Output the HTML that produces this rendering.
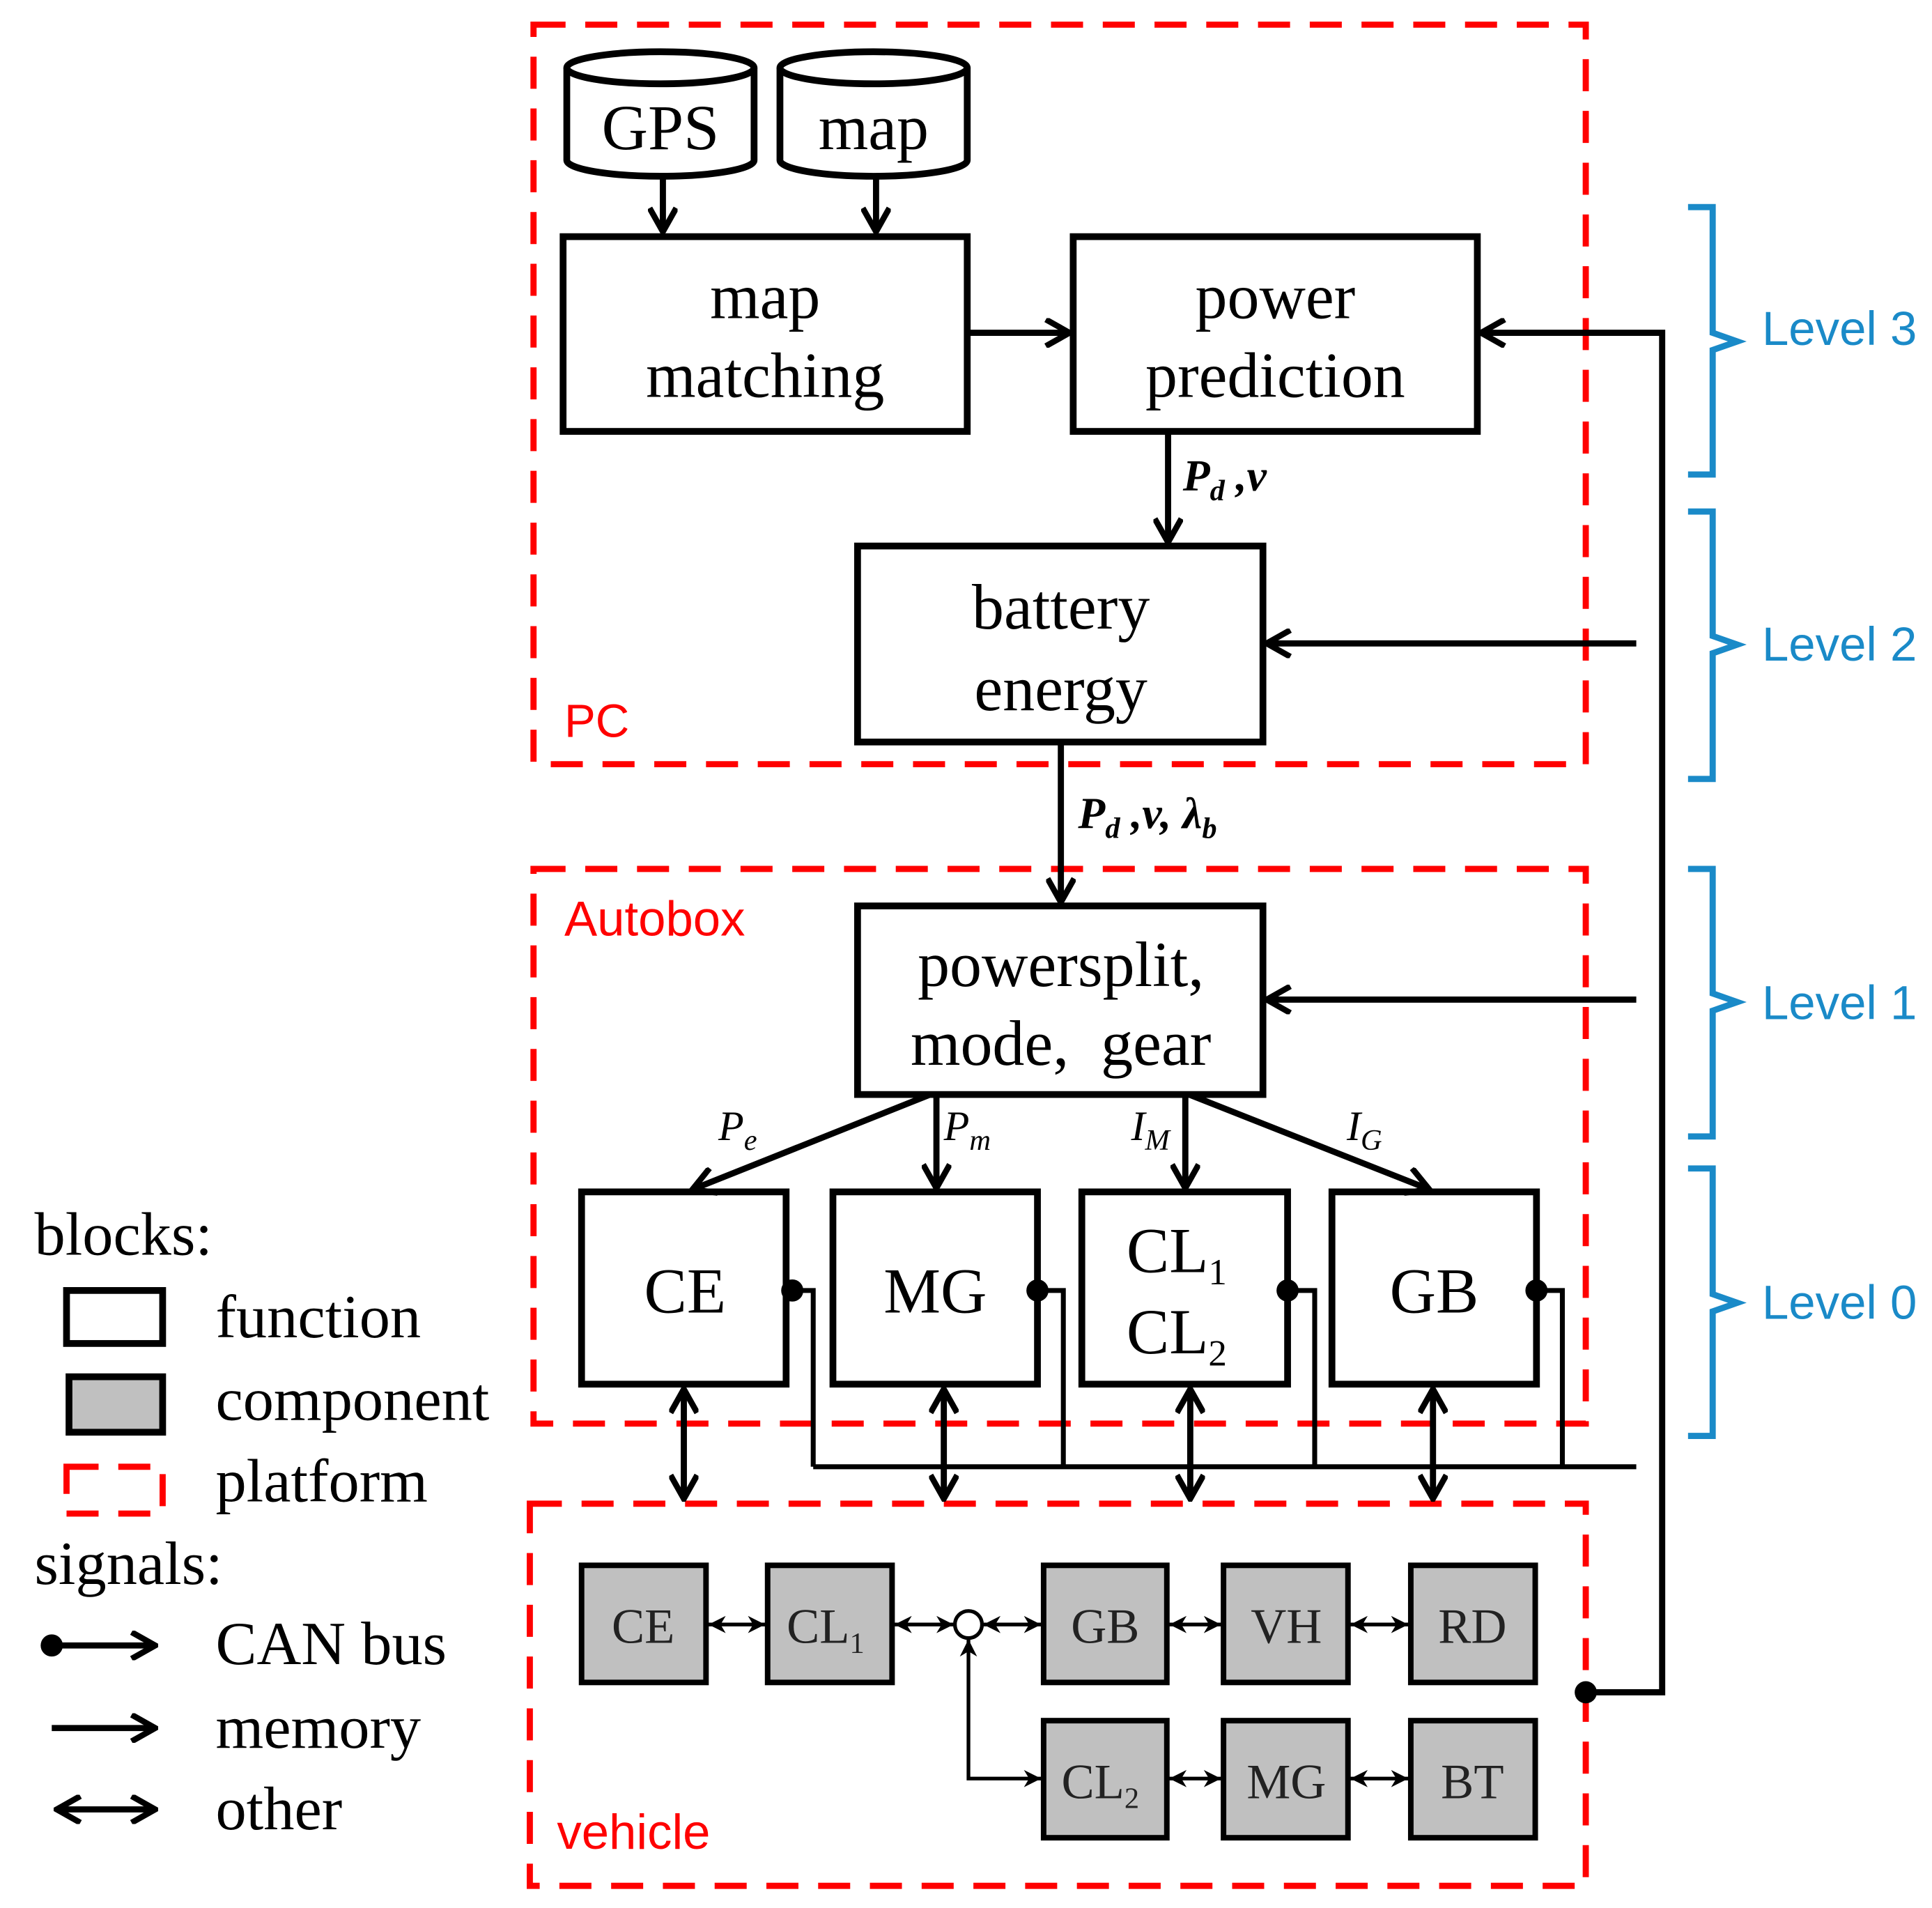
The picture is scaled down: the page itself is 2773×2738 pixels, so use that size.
<!DOCTYPE html>
<html><head><meta charset="utf-8"><style>html,body{margin:0;padding:0;background:#fff}svg{display:block}</style></head>
<body>
<svg width="2773" height="2738" viewBox="0 0 1568 1548" preserveAspectRatio="none" xmlns="http://www.w3.org/2000/svg">
<defs>
<marker id="A" viewBox="0 0 20 20" markerWidth="24" markerHeight="24" refX="18" refY="10" orient="auto-start-reverse" markerUnits="userSpaceOnUse"><path d="M2,1 L18,10 L2,19" fill="none" stroke="#000" stroke-width="4"/></marker>
<marker id="s" viewBox="0 0 10 10" markerWidth="14" markerHeight="14" refX="10" refY="5" orient="auto-start-reverse" markerUnits="userSpaceOnUse"><path d="M0,0 L10,5 L0,10 L3,5Z" fill="#000"/></marker>
</defs>
<g fill="none" stroke="#f00" stroke-width="5" stroke-dasharray="26,16">
<rect x="433" y="20" width="854" height="600"/>
<rect x="433" y="705" width="854" height="450"/>
<rect x="430" y="1220" width="857" height="310"/>
<rect x="54" y="1190" width="78" height="38"/>
</g>
<g font-family="Liberation Sans, sans-serif" font-size="40" fill="#f00">
<text x="458" y="598" font-size="38">PC</text><text x="458" y="759">Autobox</text><text x="452" y="1500">vehicle</text>
</g>
<g stroke="#000" stroke-width="5.5" fill="#fff">
<path d="M460,55 V130 A76,13 0 0 0 612,130 V55"/><ellipse cx="536" cy="55" rx="76" ry="13"/>
<path d="M633,55 V130 A76,13 0 0 0 785,130 V55"/><ellipse cx="709" cy="55" rx="76" ry="13"/>
<rect x="457" y="192" width="328" height="158"/>
<rect x="871" y="192" width="328" height="158"/>
<rect x="696" y="443" width="329" height="159"/>
<rect x="696" y="735" width="329" height="153"/>
<rect x="472" y="967" width="166" height="156"/>
<rect x="676" y="967" width="166" height="156"/>
<rect x="878" y="967" width="167" height="156"/>
<rect x="1081" y="967" width="166" height="156"/>
<rect x="54" y="1047" width="78" height="43"/>
<rect x="56" y="1117" width="76" height="45" fill="#c0c0c0"/>
</g>
<g stroke="#000" stroke-width="4.5" fill="#c0c0c0">
<rect x="472" y="1270" width="101" height="95"/><rect x="623" y="1270" width="101" height="95"/>
<rect x="847" y="1270" width="100" height="95"/><rect x="993" y="1270" width="101" height="95"/><rect x="1145" y="1270" width="101" height="95"/>
<rect x="847" y="1396" width="100" height="95"/><rect x="993" y="1396" width="101" height="95"/><rect x="1145" y="1396" width="101" height="95"/>
</g>
<g stroke="#000" stroke-width="5" fill="none" marker-end="url(#A)">
<line x1="538" y1="145" x2="538" y2="188"/><line x1="711" y1="145" x2="711" y2="188"/>
<line x1="785" y1="270" x2="868" y2="270"/>
<line x1="948" y1="350" x2="948" y2="440"/>
<line x1="861" y1="602" x2="861" y2="732"/>
<polyline points="1287,1373 1349,1373 1349,270 1202,270"/>
<line x1="1328" y1="522" x2="1028" y2="522"/>
<line x1="1328" y1="811" x2="1028" y2="811"/>
<line x1="755" y1="888" x2="562" y2="965"/>
<line x1="760" y1="888" x2="760" y2="964"/>
<line x1="962" y1="888" x2="962" y2="964"/>
<line x1="965" y1="888" x2="1160" y2="965"/>
<line x1="555" y1="1127" x2="555" y2="1216" marker-start="url(#A)"/>
<line x1="766" y1="1127" x2="766" y2="1216" marker-start="url(#A)"/>
<line x1="966" y1="1127" x2="966" y2="1216" marker-start="url(#A)"/>
<line x1="1163" y1="1127" x2="1163" y2="1216" marker-start="url(#A)"/>
<line x1="42" y1="1335" x2="126" y2="1335"/>
<line x1="42" y1="1402" x2="126" y2="1402"/>
<line x1="46" y1="1468" x2="126" y2="1468" marker-start="url(#A)"/>
</g>
<g stroke="#000" stroke-width="4" fill="none">
<polyline points="643,1047 660,1047 660,1190"/><polyline points="842,1047 863,1047 863,1190"/>
<polyline points="1045,1047 1067,1047 1067,1190"/><polyline points="1247,1047 1268,1047 1268,1190"/>
<line x1="660" y1="1190" x2="1328" y2="1190"/>
</g>
<g fill="#000"><circle cx="643" cy="1047" r="9"/><circle cx="842" cy="1047" r="9"/><circle cx="1045" cy="1047" r="9"/><circle cx="1247" cy="1047" r="9"/><circle cx="1287" cy="1373" r="9"/><circle cx="42" cy="1335" r="9"/></g>
<g stroke="#000" stroke-width="3" fill="none" marker-end="url(#s)" marker-start="url(#s)">
<line x1="575" y1="1318" x2="621" y2="1318"/><line x1="726" y1="1318" x2="774" y2="1318"/>
<line x1="798" y1="1318" x2="845" y2="1318"/><line x1="949" y1="1318" x2="991" y2="1318"/>
<line x1="1096" y1="1318" x2="1143" y2="1318"/>
<line x1="949" y1="1443" x2="991" y2="1443"/><line x1="1096" y1="1443" x2="1143" y2="1443"/>
<polyline points="786,1330 786,1443 845,1443"/>
</g>
<circle cx="786" cy="1318" r="11" fill="#fff" stroke="#000" stroke-width="3"/>
<g font-family="Liberation Serif, serif" font-size="52" fill="#000" text-anchor="middle">
<text x="536" y="121">GPS</text><text x="709" y="121">map</text>
<text x="621" y="258">map</text><text x="621" y="322">matching</text>
<text x="1035" y="258">power</text><text x="1035" y="322">prediction</text>
<text x="861" y="510">battery</text><text x="861" y="576">energy</text>
<text x="861" y="800">powersplit,</text><text x="861" y="864">mode,&#160;&#160;gear</text>
<text x="556" y="1065">CE</text><text x="759" y="1065">MG</text><text x="1164" y="1065">GB</text>
<text x="955" y="1032">CL<tspan font-size="30" dy="10">1</tspan></text>
<text x="955" y="1098">CL<tspan font-size="30" dy="10">2</tspan></text>
</g>
<g font-family="Liberation Serif, serif" font-size="40" fill="#222" text-anchor="middle">
<text x="522" y="1333">CE</text><text x="670" y="1333">CL<tspan font-size="24" dy="8">1</tspan></text>
<text x="897" y="1333">GB</text><text x="1044" y="1333">VH</text><text x="1195" y="1333">RD</text>
<text x="893" y="1459">CL<tspan font-size="24" dy="8">2</tspan></text><text x="1044" y="1459">MG</text><text x="1195" y="1459">BT</text>
</g>
<g font-family="Liberation Serif, serif" font-size="50" fill="#000">
<text x="28" y="1018">blocks:</text><text x="175" y="1085">function</text><text x="175" y="1152">component</text><text x="175" y="1218">platform</text>
<text x="28" y="1285">signals:</text><text x="175" y="1350">CAN bus</text><text x="175" y="1418">memory</text><text x="175" y="1484">other</text>
</g>
<g font-family="Liberation Serif, serif" font-style="italic" fill="#000">
<text x="960" y="398" font-size="36" font-weight="bold">P<tspan font-size="24" dy="8">d</tspan><tspan dy="-8"> ,v</tspan></text>
<text x="875" y="672" font-size="36" font-weight="bold">P<tspan font-size="24" dy="8">d</tspan><tspan dy="-8"> ,v, λ</tspan><tspan font-size="24" dy="8">b</tspan></text>
<text x="583" y="925" font-size="34">P<tspan font-size="24" dy="8">e</tspan></text>
<text x="766" y="925" font-size="34">P<tspan font-size="24" dy="8">m</tspan></text>
<text x="918" y="925" font-size="34">I<tspan font-size="24" dy="8">M</tspan></text>
<text x="1093" y="925" font-size="34">I<tspan font-size="24" dy="8">G</tspan></text>
</g>
<g stroke="#1a8ac8" stroke-width="5" fill="none">
<path d="M1370,168 H1390 V270 L1410,277 L1390,284 V385 H1370"/>
<path d="M1370,415 H1390 V516 L1410,523 L1390,530 V632 H1370"/>
<path d="M1370,705 H1390 V806 L1410,813 L1390,820 V922 H1370"/>
<path d="M1370,948 H1390 V1050 L1410,1057 L1390,1064 V1165 H1370"/>
</g>
<g font-family="Liberation Sans, sans-serif" font-size="39" fill="#1a8ac8">
<text x="1430" y="280">Level 3</text><text x="1430" y="536">Level 2</text><text x="1430" y="827">Level 1</text><text x="1430" y="1070">Level 0</text>
</g>
</svg>
</body></html>
